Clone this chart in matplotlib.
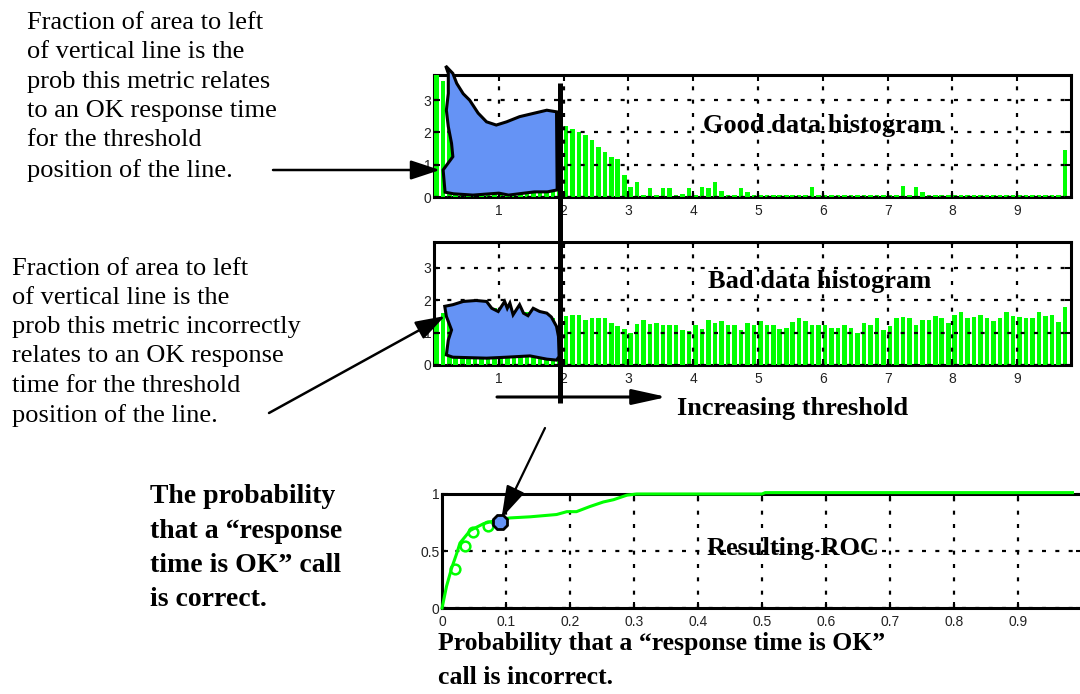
import numpy as np
import matplotlib.pyplot as plt
from matplotlib.patches import ArrowStyle

plt.rcParams['font.family'] = 'Liberation Sans'
SERIF = 'Liberation Serif'
GREEN = '#00ff00'
BLUE = '#6593f5'

# histogram bins (left edges, width 0.1) and bar heights
bin_left = np.round(np.arange(98) * 0.1, 1)
good_counts = [4.0, 3.6, 3.8, 3.5, 3.2, 2.9, 2.6, 2.4, 2.25, 2.2,
               2.25, 2.35, 2.45, 2.5, 2.55, 2.55, 2.6, 2.65, 2.65, 2.4,
               2.2, 2.12, 2.0, 1.92, 1.76, 1.55, 1.4, 1.25, 1.17, 0.68,
               0.3, 0.47, 0.05, 0.27, 0.05, 0.27, 0.27, 0.05, 0.1, 0.27,
               0.05, 0.3, 0.27, 0.47, 0.2, 0.05, 0.05, 0.27, 0.15, 0.05,
               0.05, 0.05, 0.05, 0.05, 0.05, 0.05, 0.05, 0.05, 0.3, 0.05,
               0.05, 0.05, 0.05, 0.05, 0.05, 0.05, 0.05, 0.05, 0.05, 0.05,
               0.05, 0.05, 0.35, 0.05, 0.3, 0.15, 0.05, 0.05, 0.05, 0.05,
               0.05, 0.05, 0.05, 0.05, 0.05, 0.05, 0.05, 0.05, 0.05, 0.05,
               0.05, 0.05, 0.05, 0.05, 0.05, 0.05, 0.05, 1.45]
bad_counts = [1.45, 1.6, 1.8, 1.85, 1.9, 1.9, 1.85, 1.8, 1.7, 1.75,
              1.6, 1.7, 1.55, 1.6, 1.65, 1.6, 1.55, 1.5, 1.45, 1.2,
              1.5, 1.55, 1.55, 1.39, 1.45, 1.45, 1.45, 1.3, 1.19, 1.1,
              0.98, 1.25, 1.39, 1.27, 1.3, 1.24, 1.24, 1.24, 1.08, 1.05,
              1.24, 1.1, 1.39, 1.3, 1.36, 1.24, 1.24, 1.08, 1.3, 1.24,
              1.37, 1.24, 1.24, 1.1, 1.15, 1.33, 1.45, 1.37, 1.24, 1.24,
              1.24, 1.15, 1.15, 1.24, 1.15, 0.98, 1.3, 1.24, 1.45, 1.08,
              1.2, 1.45, 1.48, 1.45, 1.24, 1.4, 1.4, 1.52, 1.45, 1.3,
              1.55, 1.62, 1.45, 1.48, 1.55, 1.45, 1.35, 1.45, 1.62, 1.52,
              1.48, 1.45, 1.45, 1.62, 1.5, 1.55, 1.33, 1.78]
threshold = 1.95

# shaded area left of the threshold (hand-traced outlines)
good_blob_x = [0.18, 0.29, 0.35, 0.45, 0.55, 0.68, 0.81, 0.96, 1.12, 1.32, 1.53, 1.74, 1.89,
               1.9, 1.75, 1.55, 1.35, 1.15, 1.0, 0.6, 0.3, 0.17, 0.14, 0.29, 0.27, 0.22, 0.19, 0.22, 0.22]
good_blob_y = [4.06, 3.83, 3.52, 3.2, 3.0, 2.6, 2.33, 2.23, 2.33, 2.49, 2.59, 2.69, 2.64,
               0.22, 0.16, 0.16, 0.11, 0.06, 0.12, 0.06, 0.1, 0.15, 0.84, 1.25, 1.66, 2.18, 2.69, 3.21, 3.83]
bad_blob_x = [0.165, 0.29, 0.45, 0.65, 0.81, 0.89, 0.99, 1.09, 1.13, 1.17, 1.22, 1.32, 1.38, 1.45,
              1.53, 1.63, 1.74, 1.81, 1.89, 1.92, 1.93, 1.89, 1.74, 1.48, 1.12, 0.81, 0.29, 0.19,
              0.22, 0.27, 0.19]
bad_blob_y = [1.81, 1.86, 1.96, 1.99, 1.96, 1.75, 1.65, 1.96, 1.75, 1.91, 1.55, 1.86, 1.6, 1.52,
              1.75, 1.65, 1.6, 1.48, 1.19, 0.88, 0.26, 0.15, 0.18, 0.28, 0.24, 0.21, 0.24, 0.31,
              0.77, 1.08, 1.5]

# ROC curve
roc_fpr = [0, 0.007, 0.015, 0.023, 0.028, 0.044, 0.065, 0.085, 0.106, 0.138, 0.179, 0.195,
           0.21, 0.231, 0.252, 0.268, 0.289, 0.304, 0.5, 0.505, 0.985]
roc_tpr = [0, 0.19, 0.35, 0.48, 0.57, 0.68, 0.74, 0.77, 0.79, 0.80, 0.82, 0.845,
           0.845, 0.89, 0.93, 0.95, 0.99, 1.0, 1.0, 1.012, 1.012]
roc_mark_fpr = [0.02, 0.036, 0.049, 0.072]
roc_mark_tpr = [0.34, 0.54, 0.67, 0.72]
op_fpr, op_tpr = 0.09, 0.755


def matlab_style(ax):
	for s in ax.spines.values():
		s.set_linewidth(2.2)
		s.set_zorder(0.5)
	ax.tick_params(direction='in', length=4, width=1.5, top=True, right=True,
	               labelsize=10, labelcolor='#222222', pad=2)
	ax.tick_params(axis='x', pad=5)
	ax.grid(True, color='k', linestyle=(0, (1.8, 4.2)), linewidth=1.6)


def hist_panel(rect, counts, blob_x, blob_y, title, tx, ty):
	ax = fig.add_axes(rect)
	ax.bar(bin_left, counts, width=0.07, align='edge', color=GREEN, linewidth=0, zorder=1)
	ax.fill(blob_x, blob_y, facecolor=BLUE, edgecolor='k', linewidth=2.2, zorder=4, clip_on=False)
	ax.set_xlim(0, 9.83)
	ax.set_ylim(0, 3.78)
	ax.set_xticks(range(1, 10))
	ax.set_yticks([0, 1, 2, 3])
	matlab_style(ax)
	ax.text(tx, ty, title, family=SERIF, weight='bold', fontsize=19, va='baseline', zorder=2)
	return ax


fig = plt.figure(figsize=(10.8, 6.94), dpi=100)

ax_good = hist_panel([0.4019, 0.7161, 0.5898, 0.1758], good_counts, good_blob_x, good_blob_y,
                     'Good data histogram', 4.15, 2.01)
ax_bad = hist_panel([0.4019, 0.4741, 0.5898, 0.1765], bad_counts, bad_blob_x, bad_blob_y,
                    'Bad data histogram', 4.23, 2.38)

ax_roc = fig.add_axes([0.4093, 0.1239, 0.5926, 0.1643])
ax_roc.plot(roc_fpr, roc_tpr, color=GREEN, linewidth=2.2, zorder=3, clip_on=False)
ax_roc.plot(roc_mark_fpr, roc_mark_tpr, 'o', mfc='none', mec=GREEN, ms=7, mew=1.8, zorder=3)
ax_roc.plot(op_fpr, op_tpr, marker='8', ms=11, mfc=BLUE, mec='k', mew=2, zorder=4, clip_on=False)
ax_roc.set_xlim(0, 1)
ax_roc.set_ylim(0, 1)
ax_roc.set_xticks(np.round(np.arange(10) * 0.1, 1))
ax_roc.set_xticklabels(['0', '0.1', '0.2', '0.3', '0.4', '0.5', '0.6', '0.7', '0.8', '0.9'])
ax_roc.set_yticks([0, 0.5, 1])
ax_roc.set_yticklabels(['0', '0.5', '1'])
matlab_style(ax_roc)
ax_roc.text(0.414, 0.465, 'Resulting ROC', family=SERIF, weight='bold', fontsize=19,
            va='baseline', zorder=2)

# overlay in pixel coordinates for the notes and arrows
ov = fig.add_axes([0, 0, 1, 1])
ov.set_xlim(0, 1080)
ov.set_ylim(694, 0)
ov.axis('off')

ov.text(27, 12, 'Fraction of area to left\nof vertical line is the\nprob this metric relates\n'
        'to an OK response time\nfor the threshold\nposition of the line.',
        family=SERIF, fontsize=19, va='top', ha='left', linespacing=1.43)
ov.text(12, 258, 'Fraction of area to left\nof vertical line is the\nprob this metric incorrectly\n'
        'relates to an OK response\ntime for the threshold\nposition of the line.',
        family=SERIF, fontsize=19, va='top', ha='left', linespacing=1.42)
ov.text(150, 484, 'The probability\nthat a \u201cresponse\ntime is OK\u201d call\nis correct.',
        family=SERIF, weight='bold', fontsize=20, va='top', ha='left', linespacing=1.5)
ov.text(438, 632, 'Probability that a \u201cresponse time is OK\u201d\ncall is incorrect.',
        family=SERIF, weight='bold', fontsize=18.5, va='top', ha='left', linespacing=1.6)
ov.text(677, 415, 'Increasing threshold', family=SERIF, weight='bold', fontsize=19,
        va='baseline', ha='left')

# threshold line through both histograms
thr_px = ax_good.transData.transform((threshold, 0))[0]
ov.plot([thr_px, thr_px], [83, 403], color='k', linewidth=3.6, solid_capstyle='butt')

head = ArrowStyle('-|>', head_length=1.0, head_width=0.33)
ov.annotate('', xy=(440, 170), xytext=(273, 170),
            arrowprops=dict(arrowstyle=head, mutation_scale=18, lw=1.8, color='k', shrinkA=0, shrinkB=0))
ov.annotate('', xy=(445, 316), xytext=(269, 413),
            arrowprops=dict(arrowstyle=head, mutation_scale=18, lw=1.8, color='k', shrinkA=0, shrinkB=0))
ov.annotate('', xy=(667, 397), xytext=(497, 397),
            arrowprops=dict(arrowstyle=ArrowStyle('-|>', head_length=1.0, head_width=0.22),
                            mutation_scale=21, lw=2.2, color='k', shrinkA=0, shrinkB=0))
ov.annotate('', xy=(op_fpr, op_tpr), xycoords=ax_roc.transData, xytext=(545, 428), textcoords='data',
            arrowprops=dict(arrowstyle=ArrowStyle('-|>', head_length=1.0, head_width=0.3),
                            mutation_scale=20, lw=1.6, color='k', shrinkA=0, shrinkB=3))

fig.savefig('out.png', dpi=100)
